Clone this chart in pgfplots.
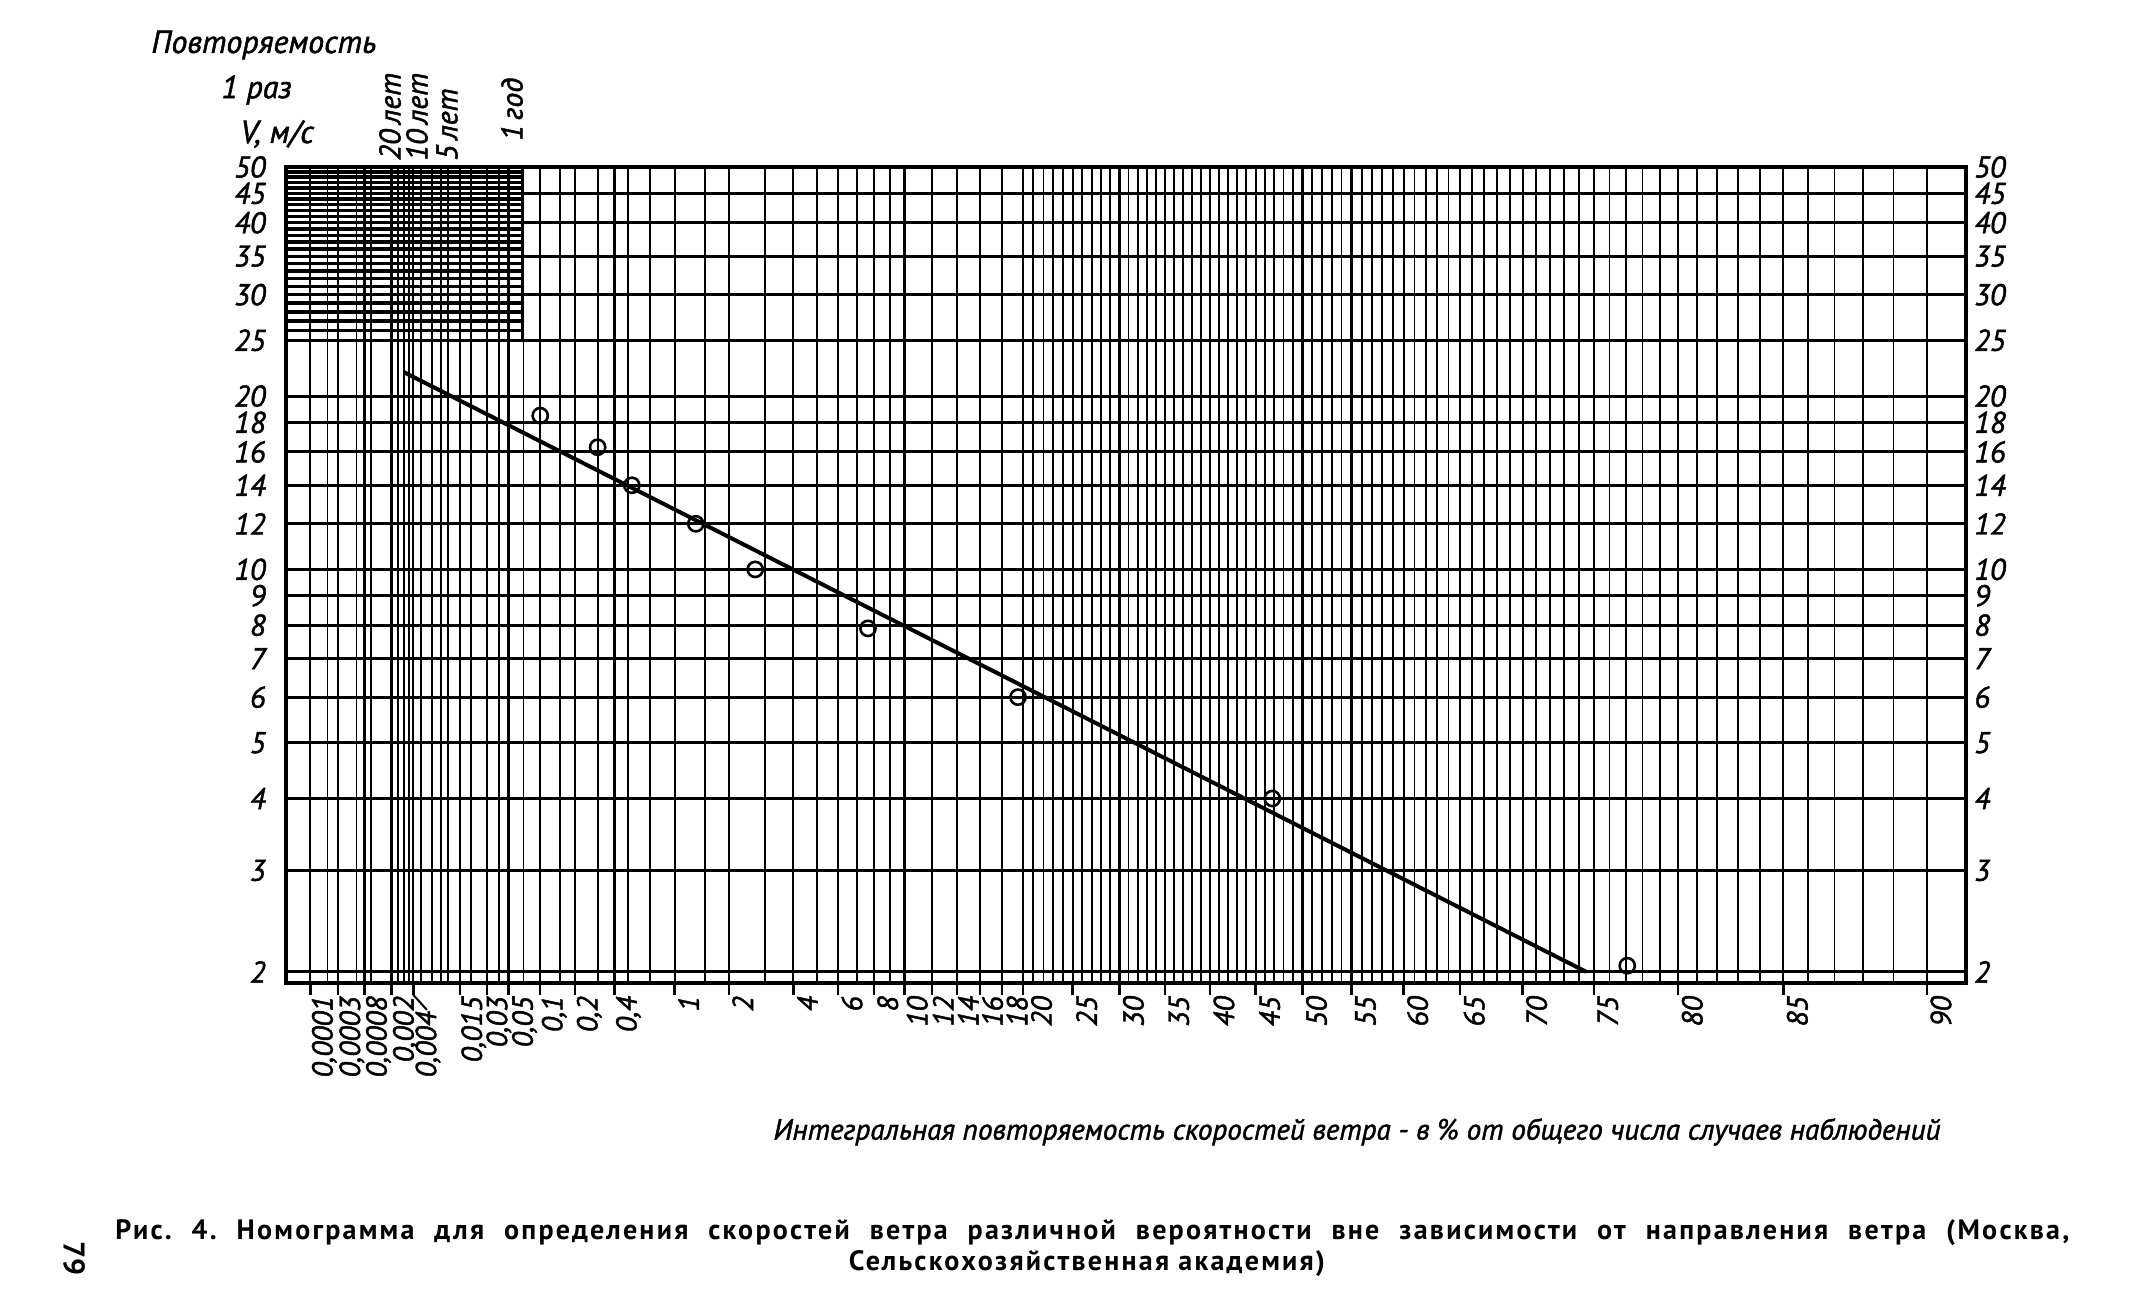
\documentclass[border=0pt]{standalone}
\usepackage{fontspec}
\setmainfont{PT Sans}
\newfontfamily\hand[FakeBold=1.5]{PT Sans}
\newfontfamily\capfont[LetterSpace=8]{PT Sans}
\usepackage{pgfplots}
\pgfplotsset{compat=1.18}
\newcommand{\sh}[2]{\raisebox{#1}[\height][\depth]{#2}}
\begin{document}
\frenchspacing
\begin{tikzpicture}
\path[use as bounding box] (0,0) rectangle (1069pt,649.5pt);
\begin{axis}[
  at={(143pt,158pt)}, anchor=south west,
  scale only axis, width=840pt, height=408pt,
  x coord trafo/.code={%
    \begingroup
    \pgfkeys{/pgf/fpu=true,/pgf/fpu/output format=fixed}%
    \pgfmathparse{-ln(-ln(#1/100))}%
    \xdef\gumbelres{\pgfmathresult}%
    \endgroup
    \let\pgfmathresult\gumbelres},
  xmin=0.0000348, xmax=91.06,
  ymode=log, ymin=1.913, ymax=50,
  axis line style={line width=2.2pt},
  xtick={0.0001,0.0003,0.0008,0.002,0.004,0.015,0.03,0.05,0.1,0.2,0.4,1,2,4,6,8,10,12,14,16,18,20,25,30,35,40,45,50,55,60,65,70,75,80,85,90},
  xticklabels={{0,0001},{0,0003},{0,0008},{0,002},{},{0,015},{\sh{1pt}{0,03}},{\sh{-1pt}{0,05}},{0,1},{0,2},{0,4},1,2,4,6,8,{\sh{0.6pt}{10}},{\sh{1.3pt}{12}},{\sh{1.3pt}{14}},{\sh{0.8pt}{16}},{\sh{-0.5pt}{18}},{\sh{-2.2pt}{20}},25,30,35,40,45,50,55,60,65,70,75,80,85,90},
  minor xtick={0.0002,0.0006,0.001,0.0025,0.003,0.0035,0.005,0.007,0.009,0.011,0.02,0.04,0.07,0.15,0.3,0.5,0.7,1.5,3,5,7,9,21,22,23,24,26,27,28,29,31,32,33,34,36,37,38,39,41,42,43,44,46,47,48,49,51,52,53,54,56,57,58,59,61,62,63,64,66,67,68,69,71,72,73,74,76,77,78,79,81,82,83,84,86,87,88,89},
  xmajorgrids, xminorgrids, ymajorgrids,
  major grid style={black, line width=1.1pt},
  minor grid style={black, line width=0.9pt},
  every major y grid/.append style={line width=1.4pt},
  tick align=outside,
  xtick pos=lower,
  major x tick style={black, line width=1.2pt},
  major tick length=6pt, minor tick length=0pt,
  ytick={2,3,4,5,6,7,8,9,10,12,14,16,18,20,25,30,35,40,45,50},
  yticklabels={2,3,4,5,6,7,8,9,10,12,14,16,18,20,25,30,35,40,45,50},
  major y tick style={draw=none},
  yticklabel pos=left,
  yticklabel style={inner sep=0pt, xshift=-4pt, font=\hand\itshape\fontsize{15}{15}\selectfont},
  xticklabel style={rotate=90, anchor=east, inner sep=0.5pt, yshift=-7pt, font=\hand\itshape\fontsize{14.5}{14.5}\selectfont},
]
\pgfplotsinvokeforeach{26,27,28,29,31,32,33,34,36,37,38,39,41,42,43,44,46,47,48,49}{
  \addplot[black, line width=1.8pt] coordinates {(0.0000348,#1) (0.068,#1)};
}
\addplot[black, line width=1.1pt] coordinates {(0.068,25) (0.068,50)};
\addplot[black, line width=2pt] coordinates {(0.003,22) (74.5,2.0)};
\addplot[only marks, mark=o, mark size=3.8pt, mark options={line width=1.3pt, black}]
  coordinates {(0.1,18.5) (0.3,16.3) (0.53,14) (1.33,12) (2.7,10) (7.65,7.9) (19.5,6) (46.8,4) (77.1,2.05)};
\end{axis}
\begin{axis}[
  at={(143pt,158pt)}, anchor=south west,
  scale only axis, width=840pt, height=408pt,
  xmin=0, xmax=1, xtick=\empty,
  ymode=log, ymin=1.913, ymax=50,
  axis line style={draw=none},
  ytick={2,3,4,5,6,7,8,9,10,12,14,16,18,20,25,30,35,40,45,50},
  yticklabels={2,3,4,5,6,7,8,9,10,12,14,16,18,20,25,30,35,40,45,50},
  major y tick style={draw=none},
  yticklabel pos=right,
  yticklabel style={inner sep=0pt, xshift=4pt, font=\hand\itshape\fontsize{15}{15}\selectfont},
]
\end{axis}
\begin{scope}[x=0.5pt, y=-0.5pt, shift={(0pt,649.5pt)}]
\node[anchor=west, inner sep=0pt, font=\hand\itshape\fontsize{16}{16}\selectfont] at (151,45) {Повторяемость};
\node[anchor=west, inner sep=0pt, font=\hand\itshape\fontsize{16}{16}\selectfont] at (221,90) {1 раз};
\node[anchor=west, inner sep=0pt, font=\hand\itshape\fontsize{16}{16}\selectfont] at (240,134) {V, м/с};
\node[rotate=90, anchor=west, inner sep=0pt, font=\hand\itshape\fontsize{15}{15}\selectfont] at (390,161) {20\,лет};
\node[rotate=90, anchor=west, inner sep=0pt, font=\hand\itshape\fontsize{15}{15}\selectfont] at (417,161) {10\,лет};
\node[rotate=90, anchor=west, inner sep=0pt, font=\hand\itshape\fontsize{15}{15}\selectfont] at (447,161) {5\,лет};
\node[rotate=90, anchor=west, inner sep=0pt, font=\hand\itshape\fontsize{15}{15}\selectfont] at (512,141) {1\,год};
% leader for the 0,004 label
\draw[black, line width=1pt] (413.4,995) -- (427,1010);
\node[rotate=90, anchor=east, inner sep=0.5pt, font=\hand\itshape\fontsize{14.5}{14.5}\selectfont] at (428,1010) {0,004};
\node[font=\hand\itshape\fontsize{14.6}{15}\selectfont] at (1357,1132) {Интегральная повторяемость скоростей ветра - в \% от общего числа случаев наблюдений};
\node[anchor=west, inner sep=0pt, font=\capfont\bfseries\fontsize{14}{14}\selectfont] at (115,1233) {\makebox[977pt][s]{Рис. 4. Номограмма для определения скоростей ветра различной вероятности вне зависимости от направления ветра (Москва,}};
\node[inner sep=0pt, font=\capfont\bfseries\fontsize{14}{14}\selectfont] at (1087,1264) {Сельскохозяйственная академия)};
\node[rotate=-90, font=\bfseries\fontsize{15}{15}\selectfont] at (74,1259) {79};
\end{scope}
\end{tikzpicture}
\end{document}
